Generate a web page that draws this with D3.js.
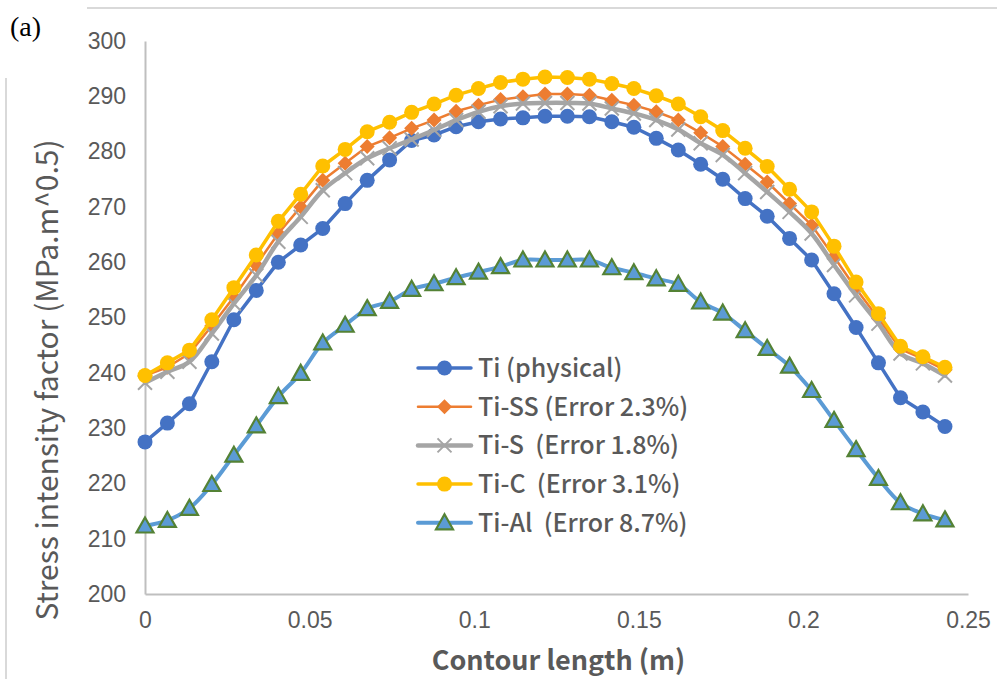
<!DOCTYPE html>
<html>
<head>
<meta charset="utf-8">
<script src="https://cdn.jsdelivr.net/npm/d3@7"></script>
<style>
  html, body { margin: 0; padding: 0; background: #fff; }
  svg { display: block; }
</style>
</head>
<body>
<div id="chart"></div>
<script>
// contour length positions (m)
const contourLength = [0, 0.0068, 0.0135, 0.0203, 0.027, 0.0338, 0.0405, 0.0473, 0.054, 0.0608,
  0.0675, 0.0743, 0.081, 0.0878, 0.0945, 0.1013, 0.108, 0.1148, 0.1215, 0.1283,
  0.135, 0.1418, 0.1485, 0.1553, 0.162, 0.1688, 0.1755, 0.1823, 0.189, 0.1958,
  0.2025, 0.2093, 0.216, 0.2228, 0.2295, 0.2363, 0.243];

const tiPhysical = [227.5, 230.9, 234.4, 242.0, 249.6, 254.9, 260.0, 263.1, 266.1, 270.6,
  274.8, 278.5, 282.0, 283.0, 284.5, 285.4, 285.9, 286.1, 286.4, 286.4,
  286.3, 285.4, 284.4, 282.4, 280.3, 277.7, 275.0, 271.5, 268.3, 264.3,
  260.4, 254.3, 248.2, 241.8, 235.5, 232.9, 230.3];

const tiSS = [239.5, 241.0, 243.5, 248.5, 253.7, 259.5, 265.2, 270.0, 274.8, 277.9,
  280.9, 282.5, 284.2, 285.7, 287.3, 288.4, 289.4, 289.9, 290.4, 290.4,
  290.2, 289.3, 288.4, 287.2, 285.7, 283.4, 280.9, 277.7, 274.5, 270.6,
  266.7, 261.0, 255.2, 249.8, 244.3, 242.5, 240.5];

const tiS = [238.2, 240.2, 242.0, 247.1, 252.5, 257.6, 263.7, 268.2, 273.0, 276.1,
  278.8, 280.6, 282.2, 283.9, 285.7, 287.2, 288.2, 288.7, 288.8, 288.8,
  288.7, 287.8, 286.9, 285.7, 284.0, 281.5, 279.4, 276.1, 272.7, 269.1,
  265.2, 259.5, 254.0, 248.9, 243.5, 241.7, 239.5];

const tiC = [239.5, 241.8, 244.1, 249.6, 255.4, 261.3, 267.4, 272.3, 277.4, 280.4,
  283.6, 285.3, 287.1, 288.6, 290.2, 291.4, 292.5, 293.1, 293.5, 293.4,
  293.1, 292.3, 291.4, 290.1, 288.6, 286.3, 283.8, 280.6, 277.3, 273.2,
  269.1, 262.9, 256.4, 250.7, 244.8, 242.9, 241.0];

const tiAl = [212.3, 213.3, 215.5, 219.8, 225.1, 230.4, 235.7, 239.9, 245.4, 248.6,
  251.6, 252.9, 255.1, 256.1, 257.2, 258.2, 259.2, 260.4, 260.4, 260.4,
  260.4, 259.0, 258.1, 257.0, 256.0, 252.8, 250.8, 247.6, 244.4, 241.2,
  236.8, 231.4, 226.1, 220.9, 216.5, 214.5, 213.4];

const seriesNames = ["Ti (physical)", "Ti-SS (Error 2.3%)", "Ti-S  (Error 1.8%)", "Ti-C  (Error 3.1%)", "Ti-Al  (Error 8.7%)"];
const xTicks = [0, 0.05, 0.1, 0.15, 0.2, 0.25];
const yTicks = [200, 210, 220, 230, 240, 250, 260, 270, 280, 290, 300];

const W = 997, H = 679;
const plotLeft = 145, plotRight = 968, plotTop = 41, plotBottom = 594;

const series = [
  { name: seriesNames[0], values: tiPhysical, color: "#4472C4", width: 3.5, marker: "circle", smooth: false },
  { name: seriesNames[1], values: tiSS, color: "#ED7D31", width: 2.5, marker: "diamond", smooth: false },
  { name: seriesNames[2], values: tiS, color: "#A5A5A5", width: 4.5, marker: "cross", smooth: true },
  { name: seriesNames[3], values: tiC, color: "#FFC000", width: 3.5, marker: "circle", smooth: false },
  { name: seriesNames[4], values: tiAl, color: "#5B9BD5", width: 4, marker: "triangle", smooth: true }
];

const svg = d3.select("#chart").append("svg")
  .attr("width", W)
  .attr("height", H);

// frame remnants
svg.append("line").attr("x1", 87).attr("x2", W).attr("y1", 8).attr("y2", 8)
  .attr("stroke", "#d9d9d9").attr("stroke-width", 2);
svg.append("line").attr("x1", 6).attr("x2", 6).attr("y1", 78).attr("y2", H)
  .attr("stroke", "#d9d9d9").attr("stroke-width", 2);

svg.append("text").attr("x", 10).attr("y", 36)
  .attr("font-family", "Liberation Serif, Times New Roman, serif")
  .attr("font-size", 28).attr("fill", "#000").text("(a)");

const x = d3.scaleLinear().domain([0, 0.25]).range([plotLeft, plotRight]);
const y = d3.scaleLinear().domain([200, 300]).range([plotBottom, plotTop]);

// axes
const xAxis = svg.append("g")
  .attr("transform", `translate(0,${plotBottom})`)
  .call(d3.axisBottom(x).tickValues(xTicks).tickSize(0).tickPadding(18)
    .tickFormat(d => d === 0 ? "0" : String(+d.toFixed(2))));
xAxis.select(".domain").attr("stroke", "#bfbfbf").attr("stroke-width", 2);
xAxis.selectAll("text").attr("font-family", "Liberation Sans, Arial, sans-serif")
  .attr("font-size", 23).attr("fill", "#595959");

const yAxis = svg.append("g")
  .attr("transform", `translate(${plotLeft},0)`)
  .call(d3.axisLeft(y).tickValues(yTicks).tickSize(0).tickPadding(19));
yAxis.select(".domain").attr("stroke", "#bfbfbf").attr("stroke-width", 2);
yAxis.selectAll("text").attr("font-family", "Liberation Sans, Arial, sans-serif")
  .attr("font-size", 23).attr("fill", "#595959");

// axis titles
svg.append("text")
  .attr("x", (plotLeft + plotRight) / 2 + 2).attr("y", 670)
  .attr("text-anchor", "middle")
  .attr("font-family", "Noto Sans CJK SC, Noto Sans, sans-serif")
  .attr("font-weight", 700)
  .attr("font-size", 27).attr("fill", "#595959")
  .text("Contour length (m)");

svg.append("text")
  .attr("transform", "translate(58,380) rotate(-90)")
  .attr("text-anchor", "middle")
  .attr("font-family", "Noto Sans CJK SC, Noto Sans, sans-serif")
  .attr("font-size", 30).attr("fill", "#595959")
  .text("Stress intensity factor (MPa.m^0.5)");

function drawMarker(g, kind, color) {
  if (kind === "circle") {
    g.append("circle").attr("r", 7.5).attr("fill", color);
  } else if (kind === "diamond") {
    g.append("path").attr("d", "M0,-7.5L7.5,0L0,7.5L-7.5,0Z").attr("fill", color);
  } else if (kind === "cross") {
    g.append("path").attr("d", "M-7,-7L7,7M-7,7L7,-7")
      .attr("stroke", color).attr("stroke-width", 2).attr("fill", "none");
  } else if (kind === "triangle") {
    g.append("path").attr("d", "M0,-8.5L8.5,6.5L-8.5,6.5Z")
      .attr("fill", "#5B9BD5").attr("stroke", "#548235").attr("stroke-width", 2.2)
      .attr("stroke-linejoin", "miter");
  }
}

const plot = svg.append("g");
series.forEach(s => {
  const pts = contourLength.map((c, i) => [c, s.values[i]]);
  const line = d3.line()
    .x(d => x(d[0])).y(d => y(d[1]))
    .curve(s.smooth ? d3.curveCatmullRom.alpha(0.5) : d3.curveLinear);
  const g = plot.append("g");
  g.append("path").datum(pts)
    .attr("d", line)
    .attr("fill", "none")
    .attr("stroke", s.color)
    .attr("stroke-width", s.width)
    .attr("stroke-linejoin", "round")
    .attr("stroke-linecap", "round");
  g.selectAll("g.m").data(pts).enter().append("g")
    .attr("class", "m")
    .attr("transform", d => `translate(${x(d[0])},${y(d[1])})`)
    .each(function() { drawMarker(d3.select(this), s.marker, s.color); });
});

// legend
const legend = svg.append("g").attr("transform", "translate(418,368)");
series.forEach((s, i) => {
  const row = legend.append("g").attr("transform", `translate(0,${i * 38.7})`);
  row.append("line").attr("x1", 0).attr("x2", 53).attr("y1", 0).attr("y2", 0)
    .attr("stroke", s.color).attr("stroke-width", s.width).attr("stroke-linecap", "round");
  const m = row.append("g").attr("transform", "translate(26.5,0)");
  drawMarker(m, s.marker, s.color);
  row.append("text").attr("x", 60).attr("y", 0).attr("dy", "0.36em")
    .attr("font-family", "Noto Sans CJK SC, Noto Sans, sans-serif")
    .attr("font-weight", 500)
    .attr("font-size", 25).attr("fill", "#595959")
    .style("white-space", "pre")
    .text(s.name);
});
</script>
</body>
</html>
